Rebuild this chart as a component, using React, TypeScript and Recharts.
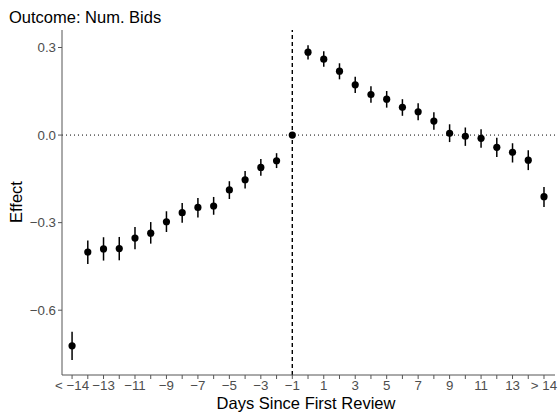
import React from 'react';
import {
  ComposedChart,
  Scatter,
  ErrorBar,
  XAxis,
  YAxis,
  ReferenceLine,
  Label,
} from 'recharts';

// Event-time bins: "< -14", -14 ... 14, "> 14"
const binLabels = [
  '< −14', '−14', '−13', '−12', '−11', '−10', '−9', '−8', '−7', '−6', '−5',
  '−4', '−3', '−2', '−1', '0', '1', '2', '3', '4', '5', '6', '7', '8', '9',
  '10', '11', '12', '13', '14', '> 14',
];

const estimates = [
  -0.722, -0.401, -0.39, -0.389, -0.353, -0.336, -0.297, -0.266, -0.248, -0.243,
  -0.188, -0.153, -0.111, -0.088, 0, 0.284, 0.26, 0.219, 0.172, 0.139, 0.123,
  0.095, 0.08, 0.048, 0.006, -0.004, -0.011, -0.042, -0.059, -0.086, -0.211,
];

const ciLow = [
  -0.771, -0.442, -0.43, -0.429, -0.391, -0.372, -0.332, -0.3, -0.282, -0.273,
  -0.219, -0.183, -0.139, -0.113, 0, 0.259, 0.234, 0.191, 0.144, 0.111, 0.094,
  0.066, 0.051, 0.018, -0.024, -0.037, -0.043, -0.075, -0.094, -0.12, -0.246,
];

const ciHigh = [
  -0.674, -0.361, -0.35, -0.349, -0.315, -0.298, -0.261, -0.233, -0.216, -0.212,
  -0.158, -0.123, -0.082, -0.062, 0, 0.308, 0.287, 0.246, 0.2, 0.167, 0.151,
  0.123, 0.109, 0.078, 0.037, 0.026, 0.02, -0.009, -0.028, -0.052, -0.178,
];

const yTicks = [-0.6, -0.3, 0, 0.3];

// reference period (-1) sits at this bin
const refBin = 14;

const data = estimates.map((est, i) => ({
  idx: i,
  est,
  err: [est - ciLow[i], ciHigh[i] - est],
}));

const FONT = '"Liberation Sans", Arial, Helvetica, sans-serif';
const AXIS = '#555555';
const TICK = '#4d4d4d';

const fmtY = (v: number) => v.toFixed(1).replace('-', '−');
const fmtX = (v: number) => (v % 2 === 0 ? binLabels[v] : '');

const Dot = (props: any) => (
  <circle cx={props.cx} cy={props.cy} r={3.6} fill="#000" />
);

export default function App() {
  return (
    <div style={{ position: 'absolute', left: 0, top: 0, width: 560, height: 415, background: '#fff', fontFamily: FONT }}>
      <div style={{ position: 'absolute', left: 9, top: 9, fontSize: 16.5, lineHeight: 1, color: '#000' }}>
        Outcome: Num. Bids
      </div>
      <ComposedChart
        width={560}
        height={415}
        data={data}
        margin={{ top: 30, right: 5, bottom: 0, left: 0 }}
      >
        <XAxis
          type="number"
          dataKey="idx"
          domain={[-0.64, 30.7]}
          allowDataOverflow
          ticks={data.map((d) => d.idx)}
          interval={0}
          tickFormatter={fmtX}
          height={40}
          tickSize={4}
          stroke={AXIS}
          tick={{ fill: TICK, fontSize: 13.3, fontFamily: FONT }}
          tickLine={{ stroke: AXIS }}
        >
          <Label
            content={() => (
              <text x={306} y={409} textAnchor="middle" fontSize={16.5} fontFamily={FONT} fill="#000">
                Days Since First Review
              </text>
            )}
          />
        </XAxis>
        <YAxis
          type="number"
          domain={[-0.822, 0.36]}
          allowDataOverflow
          ticks={yTicks}
          tickFormatter={fmtY}
          width={62}
          tickSize={4}
          stroke={AXIS}
          tick={{ fill: TICK, fontSize: 13.3, fontFamily: FONT }}
          tickLine={{ stroke: AXIS }}
        >
          <Label
            content={() => (
              <text
                x={22}
                y={202}
                transform="rotate(-90 22 202)"
                textAnchor="middle"
                fontSize={16.5}
                fontFamily={FONT}
                fill="#000"
              >
                Effect
              </text>
            )}
          />
        </YAxis>
        <ReferenceLine y={0} stroke="#000" strokeWidth={1} strokeDasharray="1 3" />
        <ReferenceLine x={refBin} stroke="#000" strokeWidth={1.4} strokeDasharray="4 3" />
        <Scatter dataKey="est" shape={Dot} isAnimationActive={false}>
          <ErrorBar dataKey="err" direction="y" width={0} stroke="#000" strokeWidth={1.5} />
        </Scatter>
      </ComposedChart>
    </div>
  );
}
